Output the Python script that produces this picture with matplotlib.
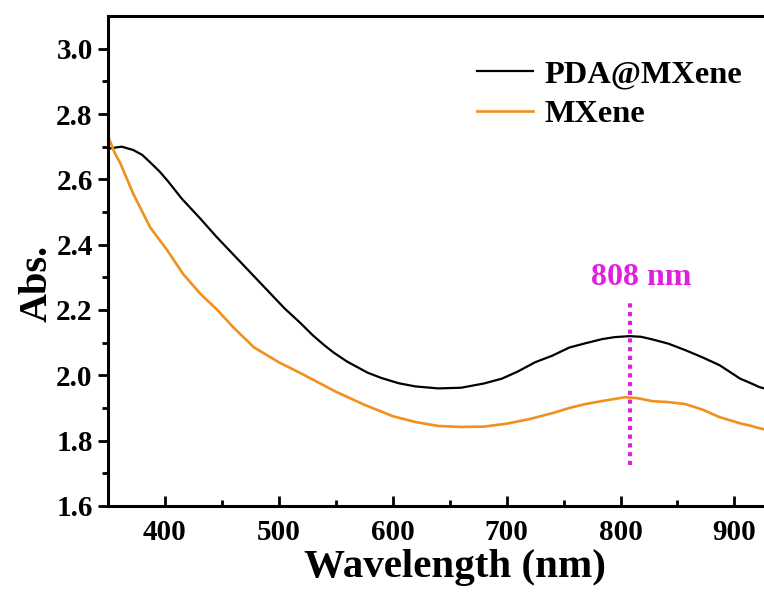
import matplotlib
matplotlib.use("Agg")
import matplotlib.pyplot as plt

plt.rcParams['font.family'] = ['Liberation Serif', 'DejaVu Serif']
plt.rcParams['font.weight'] = 'bold'

# PDA@MXene absorbance
wl_pda = [350, 352, 362, 372, 380, 387, 395, 402, 415, 431, 445, 460, 475, 490, 505,
          519, 530, 540, 548, 560, 578, 590, 605, 620, 640, 660, 680, 696, 710,
          725, 740, 755, 769, 784, 795, 808, 818, 828, 842, 857, 872, 887, 905,
          915, 922, 926]
abs_pda = [2.69, 2.695, 2.70, 2.69, 2.675, 2.652, 2.625, 2.597, 2.54, 2.48, 2.425, 2.37,
           2.315, 2.26, 2.205, 2.16, 2.122, 2.092, 2.07, 2.042, 2.008, 1.992, 1.976, 1.966,
           1.96, 1.962, 1.975, 1.99, 2.012, 2.04, 2.06, 2.085, 2.098, 2.111, 2.117,
           2.12, 2.118, 2.11, 2.097, 2.077, 2.055, 2.031, 1.99, 1.975, 1.964, 1.96]

# MXene absorbance
wl_mx = [350, 352, 356, 361, 372, 387, 402, 416, 431, 446, 460, 478, 500, 520, 550,
         575, 600, 620, 640, 660, 680, 700, 720, 740, 755, 769, 785, 804, 815, 828,
         842, 857, 872, 887, 905, 915, 922, 926]
abs_mx = [2.73, 2.715, 2.68, 2.648, 2.557, 2.453, 2.383, 2.31, 2.25, 2.20, 2.147, 2.086,
          2.04, 2.005, 1.95, 1.91, 1.875, 1.857, 1.845, 1.842, 1.843, 1.852, 1.866,
          1.884, 1.90, 1.912, 1.922, 1.933, 1.93, 1.921, 1.918, 1.912, 1.895, 1.872,
          1.853, 1.845, 1.838, 1.835]

marker_wl = 808
marker_y = [1.725, 2.225]

fig = plt.figure(figsize=(7.64, 5.92), dpi=100)
ax = fig.add_axes([108 / 764, 86 / 592, 656 / 764, 490 / 592])

ax.plot(wl_pda, abs_pda, color='black', lw=1.6, label='PDA@MXene')
ax.plot(wl_mx, abs_mx, color='#F0901E', lw=1.9, label='MXene')
ax.plot([marker_wl, marker_wl], marker_y, color='#E020E0', lw=3,
        linestyle=(0, (1, 1.1)))
ax.text(818, 2.30, f'{marker_wl} nm', color='#E020E0', fontsize=23,
        fontweight='bold', ha='center', va='center')

ax.set_xlim(350, 926)
ax.set_ylim(1.6, 3.1)
ax.set_xticks([400, 500, 600, 700, 800, 900])
ax.set_xticks(range(350, 926, 50), minor=True)
ax.set_yticks([1.6, 1.8, 2.0, 2.2, 2.4, 2.6, 2.8, 3.0])
ax.set_yticks([1.7, 1.9, 2.1, 2.3, 2.5, 2.7, 2.9], minor=True)
ax.set_yticklabels(['1.6', '1.8', '2.0', '2.2', '2.4', '2.6', '2.8', '3.0'])

for s in ['left', 'bottom', 'top']:
    ax.spines[s].set_linewidth(2.2)
ax.spines['right'].set_visible(False)

ax.tick_params(axis='x', which='major', direction='in', length=7, width=2, pad=9,
               labelsize=21)
ax.tick_params(axis='x', which='minor', direction='in', length=4, width=2)
ax.tick_params(axis='y', which='major', direction='out', length=7, width=2, pad=4,
               labelsize=21)
ax.tick_params(axis='y', which='minor', direction='out', length=4, width=2)

ax.set_xlabel('Wavelength (nm)', fontsize=29.5, fontweight='bold')
ax.set_ylabel('Abs.', fontsize=29, fontweight='bold')
ax.xaxis.set_label_coords(0.529, -0.088)
ax.yaxis.set_label_coords(-0.108, 0.455)
ax.yaxis.label.set_va('center')

ax.legend(loc='upper left', bbox_to_anchor=(0.562, 0.91), frameon=False,
          fontsize=23.3, handlelength=1.75, handletextpad=0.35, labelspacing=0.3,
          borderpad=0, borderaxespad=0)

fig.savefig('out.png', dpi=100)
